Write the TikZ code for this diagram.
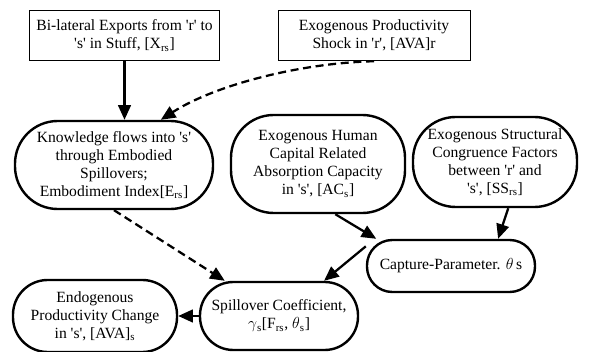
\documentclass[tikz,border=0pt]{standalone}
\usepackage{fontspec}
\setmainfont{Liberation Serif}[Ligatures=TeXOff]
\usetikzlibrary{arrows.meta}
\begin{document}
\begin{tikzpicture}[x=0.75pt,y=-0.75pt,
 box/.style={draw,line width=0.6pt,align=center,inner sep=0pt},
 bubble/.style={draw,line width=1.8pt,rounded corners=#1,align=center,inner sep=0pt},
 bubble/.default=26pt,
 link/.style={->,>={Triangle[length=11pt,width=9.5pt]},line width=1.7pt},
 font=\fontsize{11.7}{13.5}\selectfont]
 \useasboundingbox (0,0) rectangle (592,352);
 % exogenous inputs
 \node[box,minimum width=143pt,minimum height=38pt] (exports) at (124.5,35.5)
  {Bi-lateral Exports from 'r' to\\'s' in Stuff, [X\textsubscript{rs}]};
 \node[box,minimum width=144pt,minimum height=38pt] (shock) at (374,35.5)
  {Exogenous Productivity\\Shock in 'r', [AVA]r};
 % middle row
 \node[bubble=32pt,minimum width=148.5pt,minimum height=66pt] (knowledge) at (114,165)
  {Knowledge flows into 's'\\through Embodied\\Spillovers;\\Embodiment Index[E\textsubscript{rs}]};
 \node[bubble=32pt,minimum width=130.5pt,minimum height=73.5pt] (human) at (318,164)
  {Exogenous Human\\Capital Related\\Absorption Capacity\\in 's', [AC\textsubscript{s}]};
 \node[bubble=32pt,minimum width=123pt,minimum height=67.5pt] (structural) at (495,162)
  {Exogenous Structural\\Congruence Factors\\between 'r' and\\'s', [SS\textsubscript{rs}]};
 % lower row
 \node[bubble=19pt,minimum width=126pt,minimum height=39pt] (capture) at (451,266)
  {Capture-Parameter. $\theta$\,s};
 \node[bubble=25pt,minimum width=118.5pt,minimum height=51pt] (spillover) at (279,316)
  {Spillover Coefficient,\\$\gamma$\textsubscript{s}[F\textsubscript{rs}, $\theta$\textsubscript{s}]};
 \node[bubble=26pt,minimum width=123pt,minimum height=54pt] (endogenous) at (95,316)
  {Endogenous\\Productivity Change\\in 's', [AVA]\textsubscript{s}};
 % connectors
 \draw[link] (exports.south) -- (exports.south |- knowledge.north);
 \draw[link,dash pattern=on 6pt off 3.5pt] (shock.south) .. controls (300,63) and (215,85) .. (knowledge.44);
 \draw[link,dash pattern=on 6pt off 3.5pt] (knowledge.south) -- (spillover.147);
 \draw[link] (human.-71) -- (capture.160);
 \draw[link] (structural.-74) -- (capture.30);
 \draw[link] (capture.167) -- (spillover.38);
 \draw[link] (spillover.west) -- (endogenous.east);
\end{tikzpicture}
\end{document}
